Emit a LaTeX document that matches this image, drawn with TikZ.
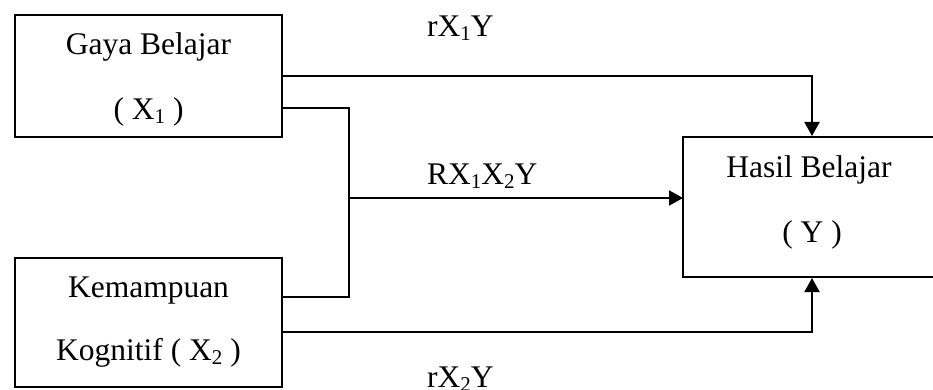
\documentclass[tikz,border=0pt]{standalone}
\usepackage{fontspec}
\setmainfont{Liberation Serif}
\usetikzlibrary{arrows.meta}

% lowered, smaller subscript digit
\newcommand\lowsub[1]{\raisebox{-4pt}{\fontsize{21}{21}\selectfont #1}}

\begin{document}
\begin{tikzpicture}[x=1pt,y=-1pt,
  box/.style={draw, line width=2pt, inner sep=0pt},
  txt/.style={anchor=base, inner sep=0pt, font=\fontsize{31.5}{38}\selectfont},
  lbl/.style={anchor=base west, inner sep=0pt, font=\fontsize{31.5}{38}\selectfont},
  conn/.style={line width=2pt},
  arr/.style={conn, -{Triangle[length=14pt,width=15pt]}}]
\useasboundingbox (0,0) rectangle (933,390);
\clip (0,0) rectangle (933,390);

% boxes
\node[box, minimum width=267, minimum height=122] (gb) at (148.5,76) {};
\node[box, minimum width=267, minimum height=129] (kg) at (148.5,322.5) {};
\node[box, minimum width=258, minimum height=140] (hb) at (812,207) {};

% box texts
\node[txt] (gb1) at (148.5,55) {Gaya Belajar};
\node[txt] (gb2) at (148.5,120) {( X\lowsub{1} )};
\node[txt] (kg1) at (148.5,297) {Kemampuan};
\node[txt] (kg2) at (148.5,360) {Kognitif ( X\lowsub{2} )};
\node[txt] (hb1) at (809,177) {Hasil Belajar};
\node[txt] (hb2) at (812,242) {( Y )};

% connector end points
\coordinate (gbout) at (282,108);
\coordinate (kgtop) at (282,297);
\coordinate (kgout) at (282,332);
\coordinate (join) at (349,198);
\coordinate (hbin) at (683,198);

% connectors
\draw[arr] (gb.east) -| (hb.north);
\draw[conn] (gbout) -| (join) |- (kgtop);
\draw[arr] (join) -- (hbin);
\draw[arr] (kgout) -| (hb.south);

% path labels
\node[lbl] (l1) at (427,37) {rX\lowsub{1}Y};
\node[lbl] (l2) at (427,184) {RX\lowsub{1}X\lowsub{2}Y};
\node[lbl] (l3) at (427,387) {rX\lowsub{2}Y};
\end{tikzpicture}
\end{document}
